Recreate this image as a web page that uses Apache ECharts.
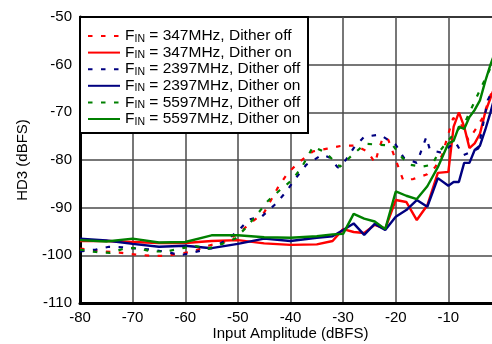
<!DOCTYPE html>
<html>
<head>
<meta charset="utf-8">
<script src="https://cdn.jsdelivr.net/npm/echarts@6/dist/echarts.min.js"></script>
<style>
html,body{margin:0;padding:0;background:#fff;}
#chart{width:492px;height:344px;}
</style>
</head>
<body>
<div id="chart"></div>
<script>
// ---------- data ----------
const seriesNames = [
  'FIN = 347MHz, Dither off',
  'FIN = 347MHz, Dither on',
  'FIN = 2397MHz, Dither off',
  'FIN = 2397MHz, Dither on',
  'FIN = 5597MHz, Dither off',
  'FIN = 5597MHz, Dither on'
];
const xTicks = [-80, -70, -60, -50, -40, -30, -20, -10];
const yTicks = [-110, -100, -90, -80, -70, -60, -50];

// Dither on: shared input amplitudes (dBFS)
const xOn = [-80,-75,-70,-65,-60,-55,-50,-45,-40,-35,-32,-30,-28,-26,-24,-22,-20,-18,-16,-14,-12,-10,-9,-8,-7,-6,-5,-4,-3,-2,-1,0];
const hd3_347_on  = [-97.0,-97.0,-97.2,-97.4,-97.4,-97.0,-96.8,-97.5,-97.8,-97.7,-97.0,-94.5,-95.1,-95.3,-93.6,-94.4,-88.4,-88.8,-92.6,-89.5,-82.7,-82.5,-73.0,-70.0,-73.0,-77.5,-76.5,-74.5,-70.0,-67.0,-64.0,-61.0];
const hd3_2397_on = [-96.5,-96.9,-97.6,-98.2,-98.0,-98.5,-97.6,-96.5,-97.0,-96.3,-96.0,-94.7,-93.3,-95.7,-93.4,-94.7,-91.9,-90.5,-88.4,-89.8,-83.8,-85.4,-84.6,-84.6,-80.6,-80.6,-77.9,-77.0,-73.7,-70.0,-66.0,-63.0];
const hd3_5597_on = [-96.8,-97.1,-96.5,-97.3,-97.2,-95.8,-95.8,-96.2,-96.3,-96.0,-95.6,-95.5,-91.3,-92.3,-92.9,-94.5,-86.6,-87.5,-88.2,-85.5,-81.5,-76.5,-76.0,-73.0,-73.5,-71.0,-69.5,-67.5,-63.5,-60.0,-57.0,-54.0];

// Dither off: each trace with its own amplitudes
const x347Off   = [-80,-77,-72,-69,-66,-63.5,-58.5,-55.7,-52.4,-50,-48,-45,-42.4,-40.5,-38.2,-35.7,-33,-30.2,-27.7,-25.4,-23.9,-23.3,-22.4,-21.4,-20.5,-18.6,-16.7,-14,-12.5,-11.2,-9.1,-7.8,-6.2,-4.9,-3.4,-2,0];
const hd3_347Off = [-98.6,-99.0,-99.5,-99.9,-100.1,-100.1,-99.2,-98.0,-97.1,-95.5,-93.6,-91.0,-85.8,-82.7,-80.3,-78.2,-77.6,-77.0,-77.0,-78.2,-80.6,-78.0,-75.2,-75.8,-78.5,-84.2,-84.0,-83.0,-81.5,-79.0,-71.2,-72.0,-75.8,-73.7,-71.0,-66.4,-63.0];

const x2397Off   = [-80,-77,-74.5,-72,-69,-66.3,-63,-61,-58.5,-55,-52.5,-50,-48,-45.5,-43,-41,-39,-37,-34,-32.5,-31,-29.5,-28,-26,-23,-20,-18.5,-16,-15.1,-14.2,-13.5,-11.2,-8.7,-7.2,-4.3,-2.5,0];
const hd3_2397Off = [-99.2,-98.8,-98.2,-98.3,-98.6,-98.8,-99.4,-100.0,-99.4,-98.5,-97.0,-95.0,-92.5,-91.9,-89.4,-86.9,-83.8,-81.0,-78.9,-79.5,-81.6,-80.0,-77.5,-75.1,-74.7,-76.8,-79.5,-80.6,-77.9,-75.2,-77.9,-78.5,-76.2,-79.0,-77.6,-67.4,-62.0];

const x5597Off   = [-80,-77,-74.3,-71.4,-69,-66.3,-63.7,-58.3,-55.7,-53,-50.4,-48.3,-46.4,-44.4,-42,-39.7,-37.8,-35.7,-33.4,-30.6,-28.3,-25.8,-23,-20.5,-18.8,-17.3,-15,-13.1,-11.9,-9.7,-6.8,-4,-1.7,0];
const hd3_5597Off = [-98.8,-99.3,-99.5,-98.5,-98.5,-99.2,-99.2,-98.0,-98.6,-97.6,-96.4,-94.0,-91.5,-88.7,-86.3,-84.2,-81.4,-77.2,-78.4,-81.4,-79.0,-76.6,-76.8,-77.0,-79.5,-81.0,-81.4,-81.0,-78.5,-75.5,-72.0,-65.3,-60.0,-57.0];

// ---------- chart ----------
const FONT = '"Liberation Sans", Arial, Helvetica, sans-serif';
const RED = '#ff0000', BLUE = '#000080', GREEN = '#008000';
const DASH = [4.5, 8.5];

function pairs(xs, ys) { return xs.map((x, i) => [x, ys[i]]); }
function mk(name, xs, ys, color, dashed) {
  return {
    name: name,
    type: 'line',
    data: pairs(xs, ys),
    symbol: 'none',
    showSymbol: false,
    animation: false,
    z: 2,
    lineStyle: { color: color, width: dashed ? 2.2 : 2.4, type: dashed ? DASH : 'solid' },
    itemStyle: { color: color },
    clip: true
  };
}

const chart = echarts.init(document.getElementById('chart'), null, { renderer: 'canvas' });
chart.setOption({
  animation: false,
  backgroundColor: '#ffffff',
  textStyle: { fontFamily: FONT, color: '#000' },
  grid: { left: 80, right: -9, top: 17, bottom: 41, containLabel: false, outerBoundsMode: 'none',
          show: true, borderColor: '#000', borderWidth: 2, backgroundColor: 'transparent' },
  graphic: [{
    type: 'rect', z: 50, silent: true,
    shape: { x: 80, y: 17, width: 228, height: 116 },
    style: { fill: '#fff', stroke: '#000', lineWidth: 2 }
  }],
  xAxis: {
    type: 'value', min: xTicks[0], max: 0, interval: 10,
    name: 'Input Amplitude (dBFS)', nameLocation: 'middle', nameGap: 23, nameMoveOverlap: false,
    nameTextStyle: { fontSize: 15, color: '#000', fontFamily: FONT, verticalAlign: 'top' },
    axisLine: { show: true, onZero: false, lineStyle: { color: '#000', width: 3 } },
    axisTick: { show: false },
    axisLabel: { fontSize: 15, color: '#000', fontFamily: FONT, margin: 7,
      formatter: v => (xTicks.indexOf(v) >= 0 ? String(v) : '') },
    splitLine: { show: true, lineStyle: { color: '#4a4a4a', width: 1.5 } }
  },
  yAxis: {
    type: 'value', min: yTicks[0], max: yTicks[yTicks.length - 1], interval: 10,
    name: 'HD3 (dBFS)', nameLocation: 'middle', nameGap: 50, nameMoveOverlap: false,
    nameTextStyle: { fontSize: 15, color: '#000', fontFamily: FONT },
    axisLine: { show: true, onZero: false, lineStyle: { color: '#000', width: 3 } },
    axisTick: { show: false },
    axisLabel: { fontSize: 15, color: '#000', fontFamily: FONT, margin: 8 },
    splitLine: { show: true, lineStyle: { color: '#4a4a4a', width: 1.5 } }
  },
  legend: {
    orient: 'vertical', left: 80, top: 17, z: 60,
    backgroundColor: 'transparent', borderWidth: 0,
    padding: [11, 8, 2, 7],
    itemWidth: 32, itemHeight: 14, itemGap: 0.4,
    data: seriesNames,
    itemStyle: { color: 'rgba(0,0,0,0)', borderColor: 'rgba(0,0,0,0)', borderWidth: 0, opacity: 0 },
    formatter: function (name) {
      return '{a|F}{s|IN}{a|' + name.slice(3) + '}';
    },
    textStyle: {
      color: '#000', fontFamily: FONT, fontSize: 15.5,
      rich: {
        a: { fontSize: 15.5, lineHeight: 16.4, fontFamily: FONT, color: '#000' },
        s: { fontSize: 10.5, lineHeight: 10, fontFamily: FONT, color: '#000', verticalAlign: 'bottom' }
      }
    }
  },
  series: [
    mk(seriesNames[0], x347Off, hd3_347Off, RED, true),
    mk(seriesNames[1], xOn, hd3_347_on, RED, false),
    mk(seriesNames[2], x2397Off, hd3_2397Off, BLUE, true),
    mk(seriesNames[3], xOn, hd3_2397_on, BLUE, false),
    mk(seriesNames[4], x5597Off, hd3_5597Off, GREEN, true),
    mk(seriesNames[5], xOn, hd3_5597_on, GREEN, false)
  ]
});
</script>
</body>
</html>
